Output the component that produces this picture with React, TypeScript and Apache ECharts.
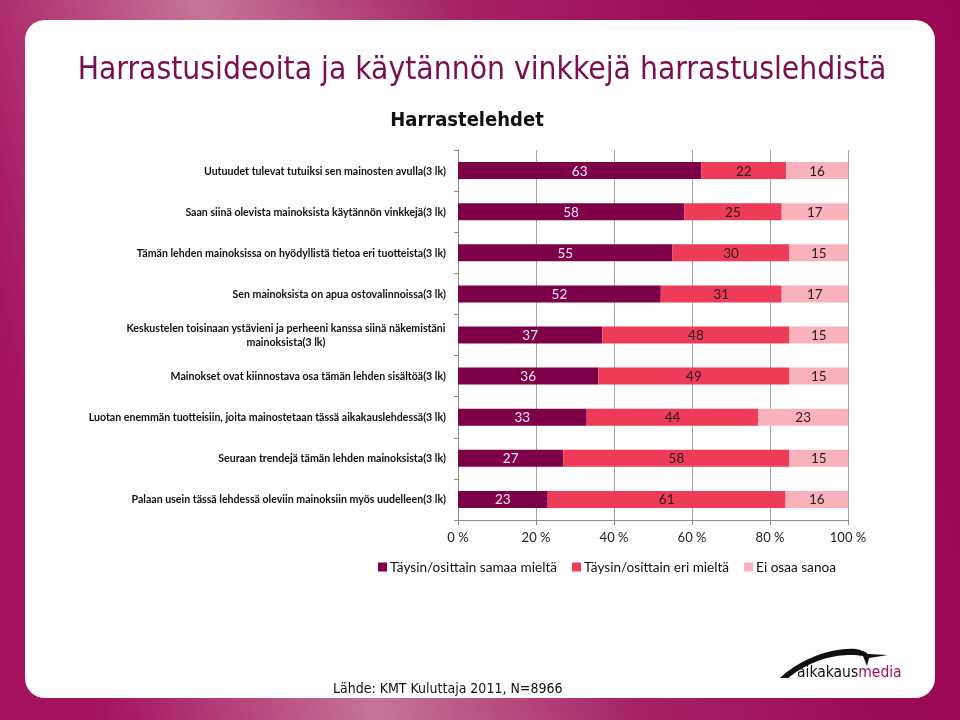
import React, { useEffect, useRef } from "react";
import * as echarts from "echarts";

const categories = [
  "Uutuudet tulevat tutuiksi sen mainosten avulla(3 lk)",
  "Saan siinä olevista mainoksista käytännön vinkkejä(3 lk)",
  "Tämän lehden mainoksissa on hyödyllistä tietoa eri tuotteista(3 lk)",
  "Sen mainoksista on apua ostovalinnoissa(3 lk)",
  "Keskustelen toisinaan ystävieni ja perheeni kanssa siinä näkemistäni\nmainoksista(3 lk)",
  "Mainokset ovat kiinnostava osa tämän lehden sisältöä(3 lk)",
  "Luotan enemmän tuotteisiin, joita mainostetaan tässä aikakauslehdessä(3 lk)",
  "Seuraan trendejä tämän lehden mainoksista(3 lk)",
  "Palaan usein tässä lehdessä oleviin mainoksiin myös uudelleen(3 lk)",
];
const seriesNames = ["Täysin/osittain samaa mieltä", "Täysin/osittain eri mieltä", "Ei osaa sanoa"];
const agree = [63, 58, 55, 52, 37, 36, 33, 27, 23];
const disagree = [22, 25, 30, 31, 48, 49, 44, 58, 61];
const dontKnow = [16, 17, 15, 17, 15, 15, 23, 15, 16];
const xTicks = [0, 20, 40, 60, 80, 100];

const TITLE = "Harrastusideoita ja käytännön vinkkejä harrastuslehdistä";
const SUBTITLE = "Harrastelehdet";
const SOURCE = "Lähde: KMT Kuluttaja 2011, N=8966";
const LOGO_A = "aikakaus";
const LOGO_B = "media";

const COLORS = ["#7e0049", "#ee3b57", "#f9b2bc"];
const LABEL_FONT = "Lato";
const LABEL_SIZE = 10.6;
const COND = '"DejaVu Sans Condensed", "DejaVu Sans"';

const SWOOSH =
  "M 12 33 C 29 17 60 2 88 4 C 94 5 98 7 100 9 L 120 10 L 101 13 L 99 21 L 95 11 C 80 8 48 10 20 33 Z";

function measure(text: string, font: string): number {
  const c = document.createElement("canvas");
  const ctx = c.getContext("2d");
  if (!ctx) return text.length * 5;
  ctx.font = font;
  return ctx.measureText(text).width;
}

export default function App() {
  const ref = useRef<HTMLDivElement>(null);
  useEffect(() => {
    if (!ref.current) return;
    try {
      echarts.graphic.registerShape("logo", echarts.graphic.extendPath(SWOOSH, {}) as any);
    } catch (e) {}
    const chart = echarts.init(ref.current, null, { renderer: "svg" });
    const rows = categories.map((_, i) => agree[i] + disagree[i] + dontKnow[i]);
    const norm = (arr: number[]) => arr.map((v, i) => (v / rows[i]) * 100);
    const raws = [agree, disagree, dontKnow];
    const labelColors = ["#fbe6f0", "#2a1a20", "#2a1a20"];

    const wrapWidth = Math.ceil(
      Math.max(
        ...categories
          .filter((c) => c.includes("\n"))
          .flatMap((c) => c.split("\n"))
          .map((l) => measure(l, `bold ${LABEL_SIZE}px ${LABEL_FONT}`)),
        0
      )
    );
    const logoFont = `15.5px ${COND}`;
    const logoAW = measure(LOGO_A, logoFont);

    const series = raws.map((raw, si) => ({
      name: seriesNames[si],
      type: "bar",
      stack: "total",
      barWidth: 17,
      itemStyle: { color: COLORS[si] },
      label: {
        show: true,
        position: "inside",
        color: labelColors[si],
        fontFamily: LABEL_FONT,
        fontSize: 13.5,
        formatter: (p: any) => String(raw[p.dataIndex]),
      },
      data: norm(raw),
    }));

    chart.setOption({
      animation: false,
      textStyle: { fontFamily: LABEL_FONT },
      graphic: [
        {
          type: "rect",
          z: -20,
          shape: { x: 0, y: 0, width: 960, height: 720 },
          style: {
            fill: new echarts.graphic.LinearGradient(
              0,
              300,
              960,
              60,
              [
                { offset: 0, color: "#a5135f" },
                { offset: 0.27, color: "#c57597" },
                { offset: 0.52, color: "#a52466" },
                { offset: 0.75, color: "#9c0b55" },
                { offset: 1, color: "#9a0652" },
              ],
              true
            ),
          },
        },
        {
          type: "rect",
          z: -19,
          shape: { x: 25, y: 20, width: 910, height: 678, r: 20 },
          style: { fill: "#ffffff" },
        },
        {
          type: "text",
          x: 482,
          y: 68,
          style: {
            text: TITLE,
            fill: "#7a0f50",
            font: `31.5px ${COND}`,
            textAlign: "center",
            textVerticalAlign: "middle",
          },
        },
        {
          type: "text",
          x: 467,
          y: 119,
          style: {
            text: SUBTITLE,
            fill: "#111111",
            font: `bold 20px ${COND}`,
            textAlign: "center",
            textVerticalAlign: "middle",
          },
        },
        {
          type: "text",
          x: 333,
          y: 688,
          style: {
            text: SOURCE,
            fill: "#111111",
            font: `14px ${COND}`,
            textAlign: "left",
            textVerticalAlign: "middle",
          },
        },
        {
          type: "logo",
          x: 768,
          y: 645,
          scaleX: 1,
          scaleY: 1,
          style: { fill: "#111111" },
        },
        {
          type: "text",
          x: 797,
          y: 672,
          style: {
            text: LOGO_A,
            fill: "#111111",
            font: logoFont,
            textAlign: "left",
            textVerticalAlign: "middle",
          },
        },
        {
          type: "text",
          x: 797 + logoAW,
          y: 672,
          style: {
            text: LOGO_B,
            fill: "#a0125c",
            font: logoFont,
            textAlign: "left",
            textVerticalAlign: "middle",
          },
        },
      ],
      legend: {
        data: seriesNames,
        left: 378,
        top: 560,
        padding: 0,
        itemWidth: 9,
        itemHeight: 9,
        itemGap: 15,
        icon: "rect",
        textStyle: { fontFamily: LABEL_FONT, fontSize: 13.6, color: "#111111", padding: [0, 0, 0, -2] },
      },
      grid: { left: 458, right: 112, top: 150, bottom: 200, containLabel: false },
      xAxis: {
        type: "value",
        min: xTicks[0],
        max: xTicks[xTicks.length - 1],
        interval: xTicks[1] - xTicks[0],
        axisLine: { show: true, lineStyle: { color: "#8c8c8c" } },
        axisTick: { show: true, length: 5, lineStyle: { color: "#8c8c8c" } },
        splitLine: { show: true, lineStyle: { color: "#a6a6a6", width: 1 } },
        axisLabel: {
          formatter: "{value} %",
          fontFamily: LABEL_FONT,
          fontSize: 13,
          color: "#222222",
          margin: 10,
        },
      },
      yAxis: {
        type: "category",
        inverse: true,
        data: categories,
        axisLine: { show: true, lineStyle: { color: "#8c8c8c" } },
        axisTick: { show: true, length: 4, lineStyle: { color: "#8c8c8c" } },
        axisLabel: {
          margin: 12,
          fontFamily: LABEL_FONT,
          fontWeight: "bold",
          fontSize: LABEL_SIZE,
          color: "#111111",
          lineHeight: 14,
          formatter: (v: string) =>
            v.includes("\n")
              ? v
                  .split("\n")
                  .map((l) => `{c|${l}}`)
                  .join("\n")
              : v,
          rich: {
            c: {
              width: wrapWidth,
              align: "center",
              fontFamily: LABEL_FONT,
              fontWeight: "bold",
              fontSize: LABEL_SIZE,
              color: "#111111",
              lineHeight: 14,
            },
          },
        },
      },
      series,
    } as any);
    return () => chart.dispose();
  }, []);
  return (
    <div
      ref={ref}
      style={{ position: "fixed", left: 0, top: 0, width: 960, height: 720 }}
    />
  );
}
